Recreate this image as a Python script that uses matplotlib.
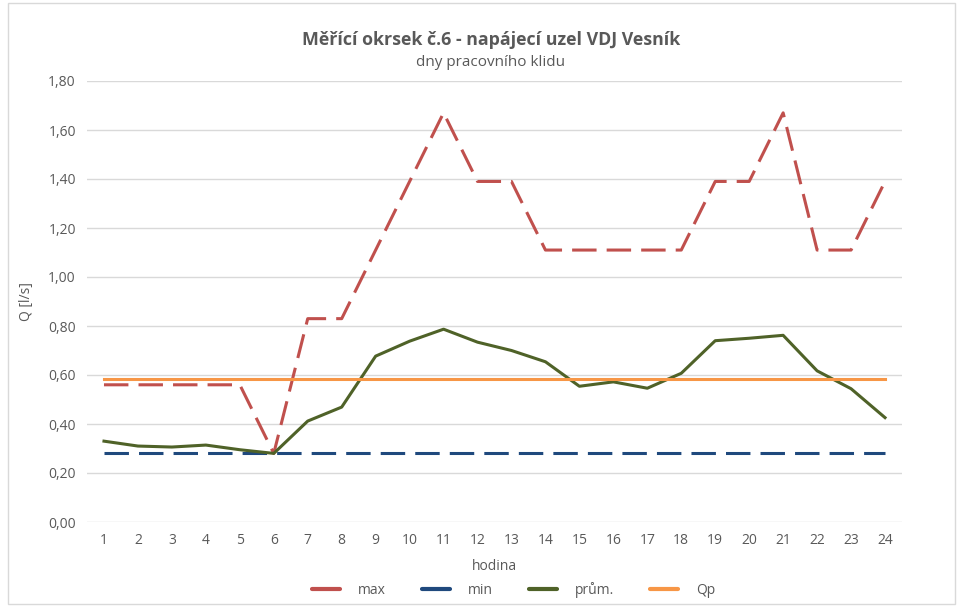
import matplotlib.pyplot as plt
from matplotlib.lines import Line2D
from matplotlib.patches import Rectangle

plt.rcParams['font.family'] = ['Open Sans', 'DejaVu Sans']

hours = list(range(1, 25))
q_max = [0.56, 0.56, 0.56, 0.56, 0.56, 0.28, 0.83, 0.83, 1.11, 1.39, 1.67, 1.39,
         1.39, 1.11, 1.11, 1.11, 1.11, 1.11, 1.39, 1.39, 1.67, 1.11, 1.11, 1.39]
q_min = [0.28] * 24
q_avg = [0.33, 0.31, 0.306, 0.314, 0.295, 0.28, 0.412, 0.469, 0.677, 0.738, 0.787, 0.734,
         0.70, 0.654, 0.554, 0.572, 0.546, 0.607, 0.740, 0.750, 0.762, 0.617, 0.544, 0.426]
q_p = [0.584] * 24
y_ticks = [0.0, 0.2, 0.4, 0.6, 0.8, 1.0, 1.2, 1.4, 1.6, 1.8]

names = ['max', 'min', 'prům.', 'Qp']
colors = ['#C0504D', '#1F497D', '#4F6228', '#F79646']
txt = '#595959'

fig = plt.figure(figsize=(9.6, 6.07), dpi=100)
ax = fig.add_axes([87 / 960, 1 - 522 / 607, (902 - 87) / 960, (522 - 81) / 607])

ax.plot(hours, q_max, color=colors[0], lw=2.2, dashes=(8, 3.3))
ax.plot(hours, q_min, color=colors[1], lw=2.2, dashes=(8, 3.3))
ax.plot(hours, q_avg, color=colors[2], lw=2.2)
ax.plot(hours, q_p, color=colors[3], lw=2.2)

ax.set_xlim(0.5, 24.5)
ax.set_ylim(0, 1.8)
ax.set_xticks(hours)
ax.set_xticklabels([str(h) for h in hours])
ax.set_yticks(y_ticks)
ax.set_yticklabels([f"{v:.2f}".replace('.', ',') for v in y_ticks])
ax.tick_params(length=0, labelsize=10, labelcolor=txt, pad=8)
ax.grid(axis='y', color='#D9D9D9', lw=1)
ax.set_axisbelow(True)
for s in ax.spines.values():
    s.set_visible(False)

ax.set_xlabel('hodina', color=txt, fontsize=10, labelpad=8)
ax.set_ylabel('Q [l/s]', color=txt, fontsize=10, labelpad=10)

fig.text(491 / 960, 1 - 40 / 607, 'Měřící okrsek č.6 - napájecí uzel VDJ Vesník',
         ha='center', va='center', fontsize=12.8, fontweight='bold', color=txt)
fig.text(491 / 960, 1 - 63 / 607, 'dny pracovního klidu',
         ha='center', va='center', fontsize=11, color=txt)

handles = [Line2D([], [], color=c, lw=3, solid_capstyle='round') for c in colors]
leg = fig.legend(handles, names, loc='center', bbox_to_anchor=(514 / 960, 1 - 590 / 607),
                 ncol=4, frameon=False, fontsize=10, handlelength=2.0,
                 columnspacing=2.6, handletextpad=1.3)
for t in leg.get_texts():
    t.set_color(txt)

fig.patches.append(Rectangle((8 / 960, 0.005), 947 / 960, 0.99, transform=fig.transFigure,
                             fill=False, edgecolor='#D9D9D9', lw=1))

fig.savefig('out.png', dpi=100, facecolor='white')
